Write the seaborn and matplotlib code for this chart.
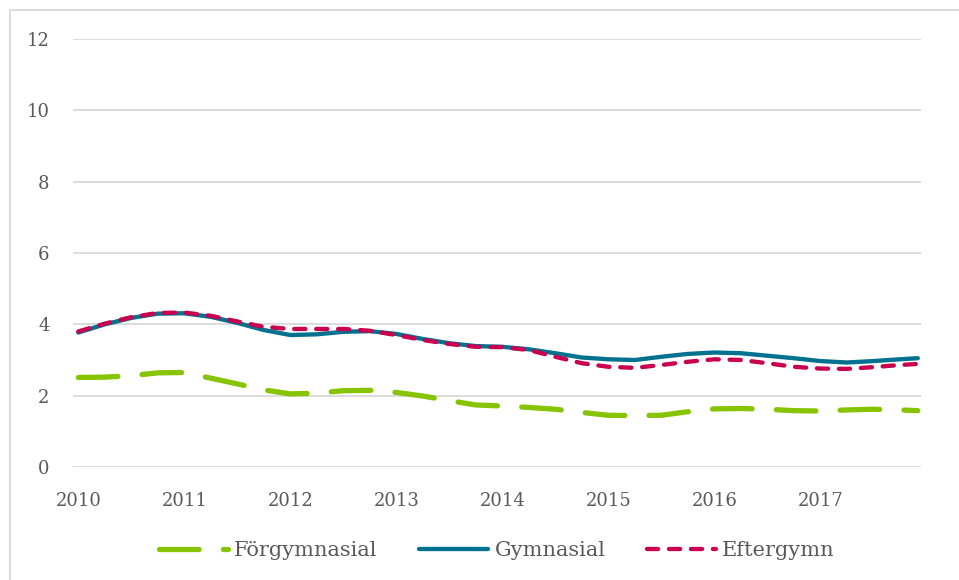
import pandas as pd
import matplotlib.pyplot as plt
import matplotlib as mpl
import seaborn as sns
import numpy as np

sns.set_theme(style="white")
plt.rcParams["font.family"] = ["DejaVu Serif"]

## DATA (quarterly readings, last point in December 2017)
years = [2010.0, 2010.25, 2010.5, 2010.75, 2011.0, 2011.25, 2011.5, 2011.75,
         2012.0, 2012.25, 2012.5, 2012.75, 2013.0, 2013.25, 2013.5, 2013.75,
         2014.0, 2014.25, 2014.5, 2014.75, 2015.0, 2015.25, 2015.5, 2015.75,
         2016.0, 2016.25, 2016.5, 2016.75, 2017.0, 2017.25, 2017.5, 2017.75, 2017.92]

forgymnasial = [2.51, 2.52, 2.56, 2.64, 2.65, 2.49, 2.33, 2.16,
                2.05, 2.07, 2.14, 2.15, 2.09, 1.99, 1.86, 1.74,
                1.71, 1.67, 1.62, 1.53, 1.45, 1.44, 1.45, 1.55,
                1.63, 1.64, 1.62, 1.58, 1.57, 1.60, 1.62, 1.60, 1.58]

gymnasial = [3.77, 4.00, 4.18, 4.30, 4.31, 4.21, 4.04, 3.84,
             3.70, 3.72, 3.79, 3.81, 3.73, 3.59, 3.47, 3.39,
             3.37, 3.30, 3.19, 3.07, 3.02, 3.00, 3.09, 3.17,
             3.21, 3.19, 3.12, 3.05, 2.97, 2.93, 2.97, 3.02, 3.05]

eftergymn = [3.80, 4.02, 4.20, 4.32, 4.33, 4.24, 4.08, 3.93,
             3.87, 3.87, 3.87, 3.82, 3.70, 3.56, 3.45, 3.37,
             3.36, 3.28, 3.09, 2.91, 2.81, 2.78, 2.86, 2.95,
             3.02, 3.00, 2.91, 2.81, 2.76, 2.75, 2.80, 2.86, 2.89]

tick_years = [2010, 2011, 2012, 2013, 2014, 2015, 2016, 2017]

GREEN = "#86C400"
BLUE = "#00718F"
RED = "#C8004F"
TEXT = "#595959"

## PLOT
fig = plt.figure(figsize=(9.59, 5.80), dpi=100)
ax = fig.add_axes([73 / 959, (580 - 467) / 580, (921 - 73) / 959, (467 - 39) / 580])

series = [
    ("Förgymnasial", forgymnasial, GREEN, 3.8, (0, (7.5, 4.6))),
    ("Gymnasial", gymnasial, BLUE, 3.1, "-"),
    ("Eftergymn", eftergymn, RED, 3.1, (0, (2.6, 2.5))),
]
for name, vals, col, lw, ls in series:
    sns.lineplot(x=years, y=vals, ax=ax, color=col, linewidth=lw, linestyle=ls,
                 label=name, solid_capstyle="round", dash_capstyle="round")

ax.set_xlim(2009.95, 2017.95)
ax.set_ylim(0, 12)
ax.set_yticks(range(0, 13, 2))
ax.set_xticks(tick_years)
ax.set_xticklabels([str(y) for y in tick_years])
ax.grid(axis="y", color="#D9D9D9", linewidth=1.3)
ax.grid(axis="x", visible=False)
for s in ax.spines.values():
    s.set_visible(False)
ax.tick_params(axis="both", length=0, labelsize=13, labelcolor=TEXT)
ax.tick_params(axis="y", pad=17)
ax.tick_params(axis="x", pad=18)
ax.set_xlabel("")
ax.set_ylabel("")

leg = ax.legend(loc="center", bbox_to_anchor=(0.5, -0.195), ncol=3, frameon=False,
                fontsize=15, handlelength=3.3, handletextpad=0.3, columnspacing=2.0)
for t in leg.get_texts():
    t.set_color(TEXT)

# outer chart frame
fig.add_artist(mpl.patches.Rectangle((10 / 959, -0.1), 1.2, (570 / 580) + 0.1,
                                     transform=fig.transFigure, fill=False,
                                     edgecolor="#D9D9D9", linewidth=1.3))

fig.savefig("out.png", dpi=100)
